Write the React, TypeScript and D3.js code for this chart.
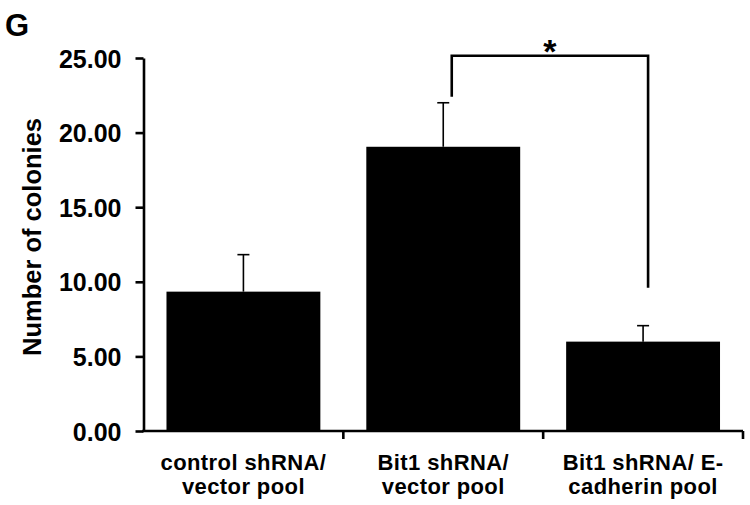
import { useEffect, useRef } from 'react'
import * as d3 from 'd3'

const categories = [
  ['control shRNA/', 'vector pool'],
  ['Bit1 shRNA/', 'vector pool'],
  ['Bit1 shRNA/ E-', 'cadherin pool'],
]
const means = [9.34, 19.05, 5.99]
const errors = [2.48, 2.95, 1.07]
const yTicks = [0, 5, 10, 15, 20, 25]
// significance bracket between bar 2 and bar 3
const bracketPair = [1, 2]
const bracketTop = 25.15
const bracketEnds = [22.4, 9.6]
const bracketLabel = '*'

const W = 750
const H = 505
const FONT = '"Liberation Sans", Arial, sans-serif'

export default function App() {
  const ref = useRef<SVGSVGElement | null>(null)

  useEffect(() => {
    if (!ref.current) {return}
    const svg = d3.select(ref.current)
    svg.selectAll('*').remove()

    const ids = categories.map((_, i) => String(i))
    const x = d3.scaleBand().domain(ids).range([143.5, 743]).paddingInner(0.23).paddingOuter(0.115)
    const y = d3.scaleLinear().domain([0, 25]).range([431, 58])

    svg.append('rect').attr('width', W).attr('height', H).attr('fill', '#fff')

    svg
      .append('text')
      .attr('x', 5)
      .attr('y', 36)
      .attr('font-family', FONT)
      .attr('font-weight', 'bold')
      .attr('font-size', 31)
      .text('G')

    // bars
    svg
      .append('g')
      .selectAll('rect')
      .data(means)
      .join('rect')
      .attr('x', (_, i) => x(String(i)) ?? 0)
      .attr('y', (d) => y(d))
      .attr('width', x.bandwidth())
      .attr('height', (d) => y(0) - y(d))
      .attr('fill', '#000')

    // error bars
    const eb = svg.append('g').attr('stroke', '#000').attr('stroke-width', 1.6)
    means.forEach((m, i) => {
      const cx = (x(String(i)) ?? 0) + x.bandwidth() / 2
      eb.append('line').attr('x1', cx).attr('x2', cx).attr('y1', y(m)).attr('y2', y(m + errors[i]))
      eb.append('line')
        .attr('x1', cx - 6)
        .attr('x2', cx + 6)
        .attr('y1', y(m + errors[i]))
        .attr('y2', y(m + errors[i]))
    })

    // y axis
    const yAxis = svg
      .append('g')
      .attr('transform', 'translate(143.5,0)')
      .call(
        d3
          .axisLeft(y)
          .tickValues(yTicks)
          .tickFormat(d3.format('.2f'))
          .tickSize(8)
          .tickSizeOuter(0)
          .tickPadding(14),
      )
    yAxis.select('.domain').attr('stroke-width', 2.6)
    yAxis.selectAll('.tick line').attr('stroke-width', 2.6)
    yAxis
      .selectAll('.tick text')
      .attr('font-family', FONT)
      .attr('font-weight', 'bold')
      .attr('font-size', 25)
      .attr('fill', '#000')
      .attr('dy', '0.36em')

    // x axis
    const xg = svg.append('g').attr('stroke', '#000').attr('stroke-width', 2.6)
    const [x0, x1] = x.range()
    xg.append('line').attr('x1', x0 - 1.3).attr('x2', x1).attr('y1', y(0)).attr('y2', y(0))
    const step = x.step()
    d3.range(1, categories.length + 1).forEach((k) => {
      const tx = x0 + k * step
      xg.append('line').attr('x1', tx).attr('x2', tx).attr('y1', y(0)).attr('y2', y(0) + 8)
    })

    // x labels
    const lg = svg
      .append('g')
      .attr('font-family', FONT)
      .attr('font-weight', 'bold')
      .attr('font-size', 22)
      .attr('letter-spacing', 0.4)
      .attr('text-anchor', 'middle')
    categories.forEach((lines, i) => {
      const cx = (x(String(i)) ?? 0) + x.bandwidth() / 2
      lines.forEach((t, j) => {
        lg.append('text').attr('x', cx).attr('y', 469.5 + j * 24).text(t)
      })
    })

    // y label
    svg
      .append('text')
      .attr('transform', 'translate(41,237) rotate(-90)')
      .attr('text-anchor', 'middle')
      .attr('font-family', FONT)
      .attr('font-weight', 'bold')
      .attr('font-size', 25.5)
      .text('Number of colonies')

    // significance bracket
    const bxL = (x(String(bracketPair[0])) ?? 0) + x.bandwidth() / 2 + 8.5
    const bxR = (x(String(bracketPair[1])) ?? 0) + x.bandwidth() / 2 + 5
    const path = d3.path()
    path.moveTo(bxL, y(bracketEnds[0]))
    path.lineTo(bxL, y(bracketTop))
    path.lineTo(bxR, y(bracketTop))
    path.lineTo(bxR, y(bracketEnds[1]))
    svg
      .append('path')
      .attr('d', path.toString())
      .attr('fill', 'none')
      .attr('stroke', '#000')
      .attr('stroke-width', 2.6)
    svg
      .append('text')
      .attr('x', (bxL + bxR) / 2)
      .attr('y', y(bracketTop) + 7)
      .attr('text-anchor', 'middle')
      .attr('font-family', FONT)
      .attr('font-weight', 'bold')
      .attr('font-size', 34)
      .text(bracketLabel)
  }, [])

  return (
    <svg
      ref={ref}
      width={W}
      height={H}
      style={{ position: 'absolute', left: 0, top: 0, display: 'block' }}
    />
  )
}
